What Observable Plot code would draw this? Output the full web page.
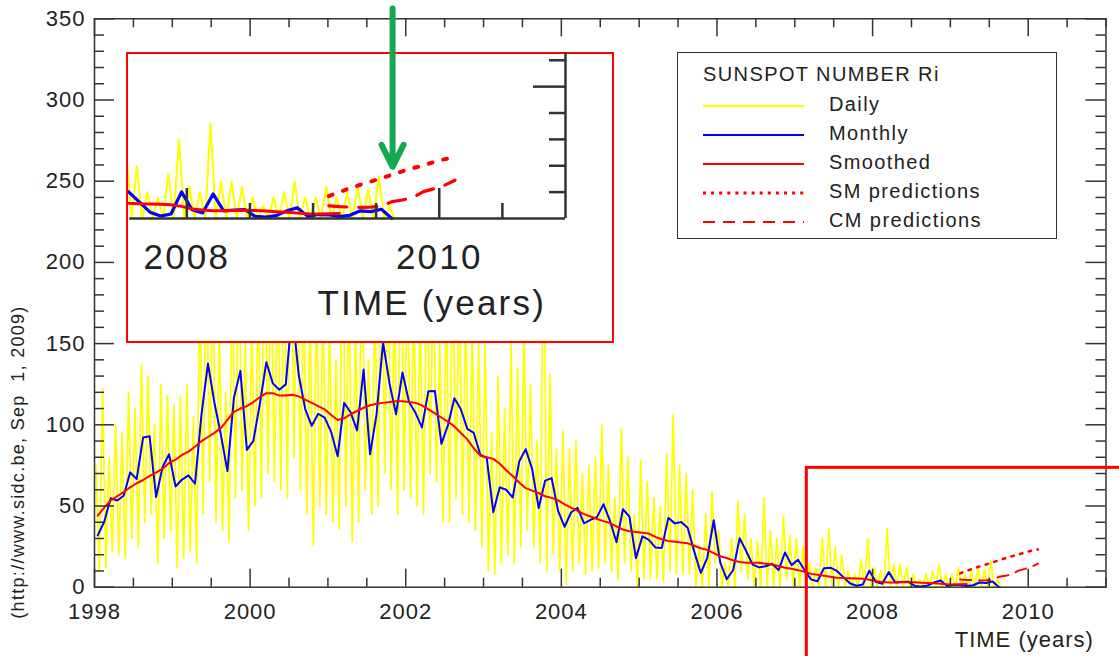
<!DOCTYPE html>
<html>
<head>
<meta charset="utf-8">
<script src="https://cdn.jsdelivr.net/npm/d3@7"></script>
<script src="https://cdn.jsdelivr.net/npm/@observablehq/plot@0.6"></script>
<style>
html, body { margin: 0; padding: 0; background: #fff; }
#wrap { position: relative; width: 1119px; height: 656px; overflow: hidden; font-family: "Liberation Sans", Arial, sans-serif; }
#main { position: absolute; left: 0; top: 0; }
#inset { position: absolute; left: 126px; top: 52px; width: 488px; height: 291px; box-sizing: border-box; border: 2.5px solid #ff0000; background: #fff; }
#insetPlot { position: absolute; left: -0.5px; top: -2.5px; }
#legend { position: absolute; left: 677px; top: 52px; width: 380px; height: 187px; box-sizing: border-box; border: 1.5px solid #333; background: #fff; }
svg text { white-space: pre; }
</style>
</head>
<body>
<div id="wrap">
  <div id="main"></div>
  <div id="inset"><div id="insetPlot"></div></div>
  <div id="legend"></div>
</div>
<script>
// ---------------- DATA ----------------
const startYear = 1998;

// Monthly sunspot number Ri, Jan 1998 .. Aug 2009
const monthlyRi = [
  31.9, 40.3, 54.8, 53.4, 56.3, 70.7, 66.6, 92.2, 92.9, 55.5, 74.0, 81.9,
  62.0, 66.3, 68.8, 63.7, 106.4, 137.7, 113.5, 93.7, 71.5, 116.7, 133.2, 84.6,
  90.1, 112.9, 138.5, 125.5, 121.6, 124.9, 170.1, 130.5, 109.7, 99.4, 106.8, 104.4,
  95.6, 80.6, 113.5, 107.7, 96.6, 134.0, 81.8, 106.4, 150.7, 125.5, 106.5, 132.2,
  114.1, 107.4, 98.4, 120.7, 120.8, 88.3, 99.6, 116.4, 109.6, 97.5, 95.0, 81.6,
  79.5, 46.2, 61.5, 60.0, 55.2, 77.4, 85.0, 72.7, 48.8, 65.6, 67.2, 47.0,
  37.2, 46.0, 48.9, 39.3, 41.5, 43.2, 51.1, 40.9, 27.7, 48.0, 43.5, 17.9,
  31.3, 29.2, 24.5, 24.2, 42.7, 39.3, 40.1, 36.4, 21.9, 8.7, 18.0, 41.2,
  15.3, 4.9, 10.6, 30.2, 22.3, 13.9, 12.2, 12.9, 14.4, 10.5, 21.4, 13.6,
  16.9, 10.6, 4.8, 3.7, 11.7, 12.0, 10.0, 6.2, 2.4, 0.9, 1.7, 10.1,
  3.3, 2.1, 9.3, 2.9, 3.2, 3.4, 0.8, 0.5, 1.1, 2.9, 4.1, 0.8,
  1.5, 1.4, 0.7, 1.2, 2.9, 2.6, 3.5, 0.0
];

// 13-month smoothed Ri, Jan 1998 .. Mar 2009
const smoothedRi = [
  44, 49, 53.5, 56, 58.5, 61.5, 64, 66, 68.5, 70.5, 73, 76.5,
  78.5, 81.5, 83.5, 86.5, 90, 92.5, 95, 98, 103, 108, 110, 111.5,
  114, 117, 119.5, 119.5, 118, 118, 118.5, 117.5, 115.5, 113.5, 111.5, 109.5,
  106, 103, 104, 106.5, 108.5, 110.5, 112, 113, 113.5, 114, 114.5, 114.5,
  114, 113.5, 112, 109.5, 107, 104.5, 102, 99, 95, 91, 85.5, 81,
  80, 79, 76, 72, 68.5, 64.5, 61, 59.5, 58, 56, 55, 53.5,
  51, 49, 47, 45, 43.5, 42, 40.7, 39.5, 37.5, 35.5, 34.5, 34,
  33.5, 33, 31, 29.5, 28.5, 28, 27.5, 27, 25.5, 24, 23, 21,
  19, 18, 16.5, 15.5, 15, 15, 15, 14.5, 14, 13, 12, 11.3,
  10.5, 9.5, 8.2, 7.6, 7.0, 6.4, 5.8, 5.6, 5.5, 5.4, 5.2, 4.6,
  3.6, 3.2, 2.9, 2.9, 3.0, 3.1, 3.0, 2.8, 2.6, 2.4, 2.1, 1.8,
  1.7, 1.8, 1.9
];

// Daily Ri, per month: highest and lowest daily value (Jan 1998 .. Aug 2009)
const dailyHigh = [
  75, 122, 80, 100, 95, 120, 110, 137, 130, 100, 125, 118,
  112, 118, 125, 105, 190, 220, 200, 160, 120, 200, 230, 150,
  160, 190, 240, 210, 200, 220, 290, 220, 190, 170, 180, 175,
  165, 140, 250, 190, 160, 230, 140, 180, 260, 220, 180, 230,
  200, 180, 170, 210, 200, 150, 180, 210, 190, 170, 160, 150,
  150, 95, 130, 110, 150, 135, 160, 125, 90, 250, 131, 85,
  96, 85, 90, 70, 75, 80, 100, 75, 55, 98, 80, 45,
  78, 65, 55, 50, 82, 106, 75, 70, 60, 25, 45, 59,
  35, 15, 30, 53, 45, 30, 28, 55, 35, 30, 44, 32,
  30, 25, 15, 12, 30, 36, 25, 20, 10, 8, 17, 30,
  12, 10, 36, 14, 14, 12, 8, 5, 8, 10, 14, 8,
  8, 12, 8, 10, 12, 11, 16, 5
];
const dailyLow = [
  10, 12, 22, 20, 18, 30, 25, 40, 45, 15, 30, 35,
  12, 18, 22, 15, 45, 65, 40, 35, 28, 55, 60, 35,
  50, 55, 70, 65, 60, 55, 80, 60, 45, 26, 50, 45,
  40, 36, 50, 28, 40, 60, 45, 50, 70, 60, 45, 60,
  55, 50, 45, 70, 65, 40, 40, 55, 45, 40, 35, 25,
  10, 8, 15, 20, 15, 25, 35, 25, 15, 10, 20, 10,
  2, 10, 15, 8, 10, 12, 15, 10, 5, 15, 10, 0,
  5, 5, 5, 3, 10, 8, 8, 8, 0, 0, 0, 15,
  0, 0, 0, 10, 5, 0, 0, 0, 0, 0, 5, 0,
  0, 0, 0, 0, 0, 0, 0, 0, 0, 0, 0, 0,
  0, 0, 0, 0, 0, 0, 0, 0, 0, 0, 0, 0,
  0, 0, 0, 0, 0, 0, 0, 0
];

// Predictions, Feb 2009 .. Feb 2010
const predStartMonth = 133; // months after Jan 1998
const smPrediction = [8.5, 10, 11.5, 12.8, 14, 15.3, 16.6, 17.9, 19.1, 20.2, 21.4, 22.5, 23.2];
const cmPrediction = [4.8, 4.5, 4.3, 4.2, 4.3, 4.6, 6.4, 7.0, 8.0, 10.2, 11.3, 12.6, 14.5];

// Axis ticks / labels
const xTickLabels = [1998, 2000, 2002, 2004, 2006, 2008, 2010];
const yTickLabels = [0, 50, 100, 150, 200, 250, 300, 350];
const insetXTickLabels = [2008, 2010];

// Annotations (data units)
const zoomBox = [{x1: 2007.155, x2: 2013, y1: -80, y2: 73.5}];
const arrowNote = [{x: 2009.63, yTop: 79.6, yTip: 19.6}];

const sourceNote = "(http://www.sidc.be, Sep  1, 2009)";
const legendTitle = "SUNSPOT NUMBER Ri";
const legendItems = [
  {label: "Daily", color: "#ffff00", dash: null, width: 2},
  {label: "Monthly", color: "#0000ff", dash: null, width: 2},
  {label: "Smoothed", color: "#ff0000", dash: null, width: 2},
  {label: "SM predictions", color: "#ff0000", dash: "3,5.1", width: 3},
  {label: "CM predictions", color: "#ff0000", dash: "12,8", width: 2}
];

// ---------------- TABLES ----------------
const tOf = i => startYear + (i + 0.5) / 12;
const monthlyData = monthlyRi.map((v, i) => ({t: tOf(i), v}));
const smoothedData = smoothedRi.map((v, i) => ({t: tOf(i), v}));
const dailyData = dailyHigh.flatMap((hi, i) => [
  {t: startYear + (i + 0.25) / 12, v: hi},
  {t: startYear + (i + 0.75) / 12, v: dailyLow[i]}
]);
const smData = smPrediction.map((v, i) => ({t: tOf(predStartMonth + i), v}));
const cmData = cmPrediction.map((v, i) => ({t: tOf(predStartMonth + i), v}));

const AX = "#333";
const TXT = "#222";
const FONT = "Liberation Sans, Arial, sans-serif";

// ---------------- MAIN PLOT ----------------
const W = 1119, H = 656;
const mL = 94, mR = 13.5, mT = 18.3, mB = 69.3;
const pxYear = (W - mL - mR) / 13;
const pxUnit = (H - mT - mB) / 350;

const halfYears = d3.range(1998, 2011.001, 0.5);
const isMajorX = d => Math.abs(d % 2) < 1e-9;
const yTicks = d3.range(0, 351, 10);
const isMajorY = d => d % 50 === 0;

const main = Plot.plot({
  width: W, height: H,
  marginLeft: mL, marginRight: mR, marginTop: mT, marginBottom: mB,
  x: {domain: [1998, 2011], axis: null},
  y: {domain: [0, 350], axis: null},
  style: {background: "white", fontFamily: FONT, letterSpacing: "1px", color: TXT},
  marks: [
    Plot.line(dailyData, {x: "t", y: "v", stroke: "#ffff00", strokeWidth: 1.7}),
    Plot.line(monthlyData, {x: "t", y: "v", stroke: "#0000ff", strokeWidth: 2}),
    Plot.line(smoothedData, {x: "t", y: "v", stroke: "#ff0000", strokeWidth: 2}),
    Plot.line(smData, {x: "t", y: "v", stroke: "#ff0000", strokeWidth: 2.5, strokeDasharray: "2.5,6.5"}),
    Plot.line(cmData, {x: "t", y: "v", stroke: "#ff0000", strokeWidth: 2, strokeDasharray: "11,8"}),
    // ticks (inward)
    Plot.ruleX(halfYears, {x: d => d, y1: 0, y2: d => (isMajorX(d) ? 18 : 9) / pxUnit, stroke: AX, strokeWidth: 1.5}),
    Plot.ruleX(halfYears, {x: d => d, y1: 350, y2: d => 350 - (isMajorX(d) ? 18 : 9) / pxUnit, stroke: AX, strokeWidth: 1.5}),
    Plot.ruleY(yTicks, {y: d => d, x1: 1998, x2: d => 1998 + (isMajorY(d) ? 20 : 10) / pxYear, stroke: AX, strokeWidth: 1.5}),
    Plot.ruleY(yTicks, {y: d => d, x1: d => 2011 - (isMajorY(d) ? 20 : 10) / pxYear, x2: 2011, stroke: AX, strokeWidth: 1.5}),
    Plot.frame({stroke: AX, strokeWidth: 1.5}),
    // labels
    Plot.text(xTickLabels, {x: d => d, y: 0, dy: 25, text: d => String(d), fontSize: 22, fill: TXT}),
    Plot.text(yTickLabels, {x: 1998, y: d => d, dx: -9, text: d => String(d), textAnchor: "end", fontSize: 22, fill: TXT}),
    Plot.text(["TIME (years)"], {x: 2009.95, y: 0, dy: 53, text: d => d, fontSize: 22, fill: TXT}),
    Plot.text([sourceNote], {frameAnchor: "left", textAnchor: "middle", dx: -76, dy: 159, rotate: -90, text: d => d, fontSize: 18, fill: TXT}),
    // zoom region annotation
    Plot.rect(zoomBox, {x1: "x1", x2: "x2", y1: "y1", y2: "y2", fill: "none", stroke: "#ff0000", strokeWidth: 3})
  ]
});
document.getElementById("main").appendChild(main);
// source note is spaced a little more widely than the tick labels
d3.select(main).selectAll("text").filter(function() { return this.textContent === sourceNote; })
  .style("letter-spacing", "1.3px");

// ---------------- INSET (magnified view) ----------------
const iW = 484, iH = 289;
const imL = 0, imR = 47, imT = 0, imB = 115.1;
const iXdom = [2007.538, 2011];
const iYdom = [-3, 62.95];
const ipxYear = (iW - imL - imR) / (iXdom[1] - iXdom[0]);
const ipxUnit = (iH - imT - imB) / (iYdom[1] - iYdom[0]);
const iHalfYears = d3.range(2008, 2011, 0.5);
const iYTicks = d3.range(10, 61, 10);
const inWin = d => d.t >= 2007.4;

const inset = Plot.plot({
  width: iW, height: iH,
  marginLeft: imL, marginRight: imR, marginTop: imT, marginBottom: imB,
  x: {domain: iXdom, axis: null},
  y: {domain: iYdom, axis: null},
  style: {background: "none", overflow: "visible", fontFamily: FONT, letterSpacing: "2.2px", color: TXT},
  marks: [
    Plot.line(dailyData.filter(inWin), {x: "t", y: "v", stroke: "#ffff00", strokeWidth: 2, clip: true}),
    Plot.line(monthlyData.filter(inWin), {x: "t", y: "v", stroke: "#0000ff", strokeWidth: 3.2, clip: true}),
    Plot.line(smoothedData.filter(inWin), {x: "t", y: "v", stroke: "#ff0000", strokeWidth: 3, clip: true}),
    Plot.line(smData, {x: "t", y: "v", stroke: "#ff0000", strokeWidth: 4, strokeDasharray: "4,11", clip: true}),
    Plot.line(cmData, {x: "t", y: "v", stroke: "#ff0000", strokeWidth: 3.2, strokeDasharray: "18,12", clip: true}),
    Plot.ruleX(iHalfYears, {x: d => d, y1: 0, y2: d => (isMajorX(d) ? 30 : 15) / ipxUnit, stroke: AX, strokeWidth: 2.5}),
    Plot.ruleY(iYTicks, {y: d => d, x1: d => 2011 - (isMajorY(d) ? 32 : 16) / ipxYear, x2: 2011, stroke: AX, strokeWidth: 2.5}),
    Plot.ruleY([0], {x1: iXdom[0] + 0.01, x2: 2011, stroke: AX, strokeWidth: 2.5}),
    Plot.ruleX([2011], {y1: 0, y2: iYdom[1], stroke: AX, strokeWidth: 2.5}),
    Plot.text(insetXTickLabels, {x: d => d, y: 0, dy: 39, text: d => String(d), fontSize: 35, fill: TXT}),
    Plot.text(["TIME (years)"], {x: 2009.94, y: 0, dy: 85, text: d => d, fontSize: 35, fill: TXT}),
    Plot.arrow(arrowNote, {x1: "x", x2: "x", y1: "yTop", y2: "yTip", stroke: "#14a94f", strokeWidth: 6, headLength: 6.15, headAngle: 53})
  ]
});
document.getElementById("insetPlot").appendChild(inset);

// ---------------- LEGEND ----------------
const lg = d3.select("#legend").append("svg")
  .attr("width", 377).attr("height", 184)
  .style("display", "block")
  .attr("font-family", FONT)
  .style("letter-spacing", "1.4px");
lg.append("text").attr("x", 25).attr("y", 28).attr("font-size", 20).attr("fill", TXT).text(legendTitle);
legendItems.forEach((d, i) => {
  const yRow = 53 + i * 29;
  lg.append("line").attr("x1", 25).attr("x2", 126).attr("y1", yRow).attr("y2", yRow)
    .attr("stroke", d.color).attr("stroke-width", d.width)
    .attr("stroke-dasharray", d.dash);
  lg.append("text").attr("x", 151).attr("y", yRow + 4.7).attr("font-size", 20).attr("fill", TXT).text(d.label);
});
</script>
</body>
</html>
